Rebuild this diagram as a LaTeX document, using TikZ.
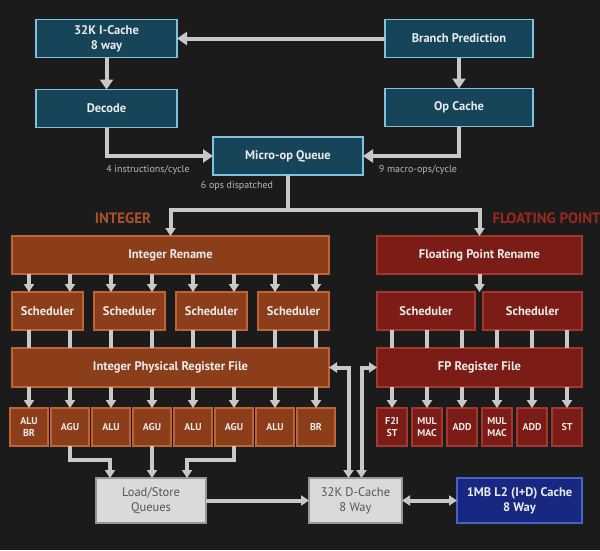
\documentclass[tikz,border=0pt]{standalone}
\usepackage{fontspec}
\setmainfont{PT Sans}
\usetikzlibrary{positioning,arrows.meta}

\definecolor{bgdark}{RGB}{27,27,27}
\definecolor{fetchfill}{RGB}{22,68,88}
\definecolor{fetchline}{RGB}{125,195,225}
\definecolor{intfill}{RGB}{140,62,26}
\definecolor{intline}{RGB}{190,100,55}
\definecolor{fpfill}{RGB}{124,28,22}
\definecolor{fpline}{RGB}{165,55,45}
\definecolor{memfill}{RGB}{218,218,218}
\definecolor{memline}{RGB}{150,150,150}
\definecolor{memtext}{RGB}{85,85,85}
\definecolor{ltwofill}{RGB}{24,40,130}
\definecolor{ltwoline}{RGB}{70,100,200}
\definecolor{wire}{RGB}{200,200,200}
\definecolor{note}{RGB}{185,185,185}
\definecolor{inttitle}{RGB}{170,82,42}
\definecolor{fptitle}{RGB}{155,40,30}

\tikzset{
  block/.style={draw, line width=1.5pt, outer sep=0pt, inner sep=0pt, align=center,
    text=white!92!black, font=\bfseries\fontsize{12.5pt}{15pt}\selectfont},
  fetch/.style={block, fill=fetchfill, draw=fetchline, minimum height=38pt},
  intblk/.style={block, fill=intfill, draw=intline, minimum height=38pt},
  fpblk/.style={block, fill=fpfill, draw=fpline, minimum height=38pt},
  intunit/.style={intblk, minimum width=38pt, font=\bfseries\fontsize{10pt}{12pt}\selectfont},
  fpunit/.style={fpblk, minimum width=30pt, font=\bfseries\fontsize{10pt}{12pt}\selectfont},
  memblk/.style={block, fill=memfill, draw=memline, minimum height=45pt, text=memtext,
    font=\fontsize{12.5pt}{15pt}\selectfont},
  ltwoblk/.style={block, fill=ltwofill, draw=ltwoline, minimum height=45pt},
  note/.style={text=note, font=\fontsize{10pt}{12pt}\selectfont},
  title/.style={font=\bfseries\fontsize{15pt}{17pt}\selectfont},
  wire/.style={draw=wire, line width=4pt},
  arr/.style={wire, -{Triangle[width=10pt,length=8pt]}},
  bigarr/.style={wire, -{Triangle[width=13pt,length=10pt]}},
  darr/.style={wire, {Triangle[width=10pt,length=8pt]}-{Triangle[width=10pt,length=8pt]}},
}

\begin{document}
\begin{tikzpicture}[x=1pt,y=-1pt]
    \useasboundingbox (0,0) rectangle (600,550);
    \fill[bgdark] (0,0) rectangle (600,550);

    % Front end
    \node[fetch, minimum width=141pt]                (icache)  at (106.5,38.5) {32K I-Cache\\8 way};
    \node[fetch, minimum width=141pt, below=32pt of icache] (decode) {Decode};
    \node[fetch, minimum width=148pt, right=208pt of icache] (bpred) {Branch Prediction};
    \node[fetch, minimum width=148pt, below=31pt of bpred]  (opcache) {Op Cache};
    \node[fetch, minimum width=150pt]                (uopq)    at (288,156) {Micro-op Queue};
    \node[note]                                      (ipc)     at (148,170) {4 instructions/cycle};
    \node[note]                                      (mpc)     at (418,170) {9 macro-ops/cycle};
    \node[note]                                      (disp)    at (237,186) {6 ops dispatched};

    % Integer side
    \node[title, text=inttitle]                      (intname) at (123,218) {INTEGER};
    \node[intblk, minimum width=317pt]               (intren)  at (170.5,255) {Integer Rename};
    \node[intblk, minimum width=71pt, below right=18pt and 0pt of intren.south west] (isched1) {Scheduler};
    \node[intblk, minimum width=71pt, right=11pt of isched1] (isched2) {Scheduler};
    \node[intblk, minimum width=71pt, right=11pt of isched2] (isched3) {Scheduler};
    \node[intblk, minimum width=71pt, right=11pt of isched3] (isched4) {Scheduler};
    \node[intblk, minimum width=317pt, minimum height=39pt, below right=18pt and 0pt of isched1.south west] (intprf) {Integer Physical Register File};
    \node[intunit, below right=21pt and -2pt of intprf.south west] (alubr) {ALU\\BR};
    \node[intunit, right=3pt of alubr] (agu1) {AGU};
    \node[intunit, right=3pt of agu1]  (alu1) {ALU};
    \node[intunit, right=3pt of alu1]  (agu2) {AGU};
    \node[intunit, right=3pt of agu2]  (alu2) {ALU};
    \node[intunit, right=3pt of alu2]  (agu3) {AGU};
    \node[intunit, right=3pt of agu3]  (alu3) {ALU};
    \node[intunit, right=3pt of alu3]  (br)   {BR};

    % Floating point side
    \node[title, text=fptitle, anchor=west]          (fpname)  at (489,218) {FLOATING POINT};
    \node[fpblk, minimum width=205pt]                (fpren)   at (479.5,255) {Floating Point Rename};
    \node[fpblk, minimum width=98pt, below right=18pt and 0pt of fpren.south west] (fsched1) {Scheduler};
    \node[fpblk, minimum width=99pt, right=8pt of fsched1] (fsched2) {Scheduler};
    \node[fpblk, minimum width=205pt, minimum height=39pt, below right=18pt and 0pt of fsched1.south west] (fpprf) {FP Register File};
    \node[fpunit, below right=21pt and 0pt of fpprf.south west] (f2i) {F2I\\ST};
    \node[fpunit, right=5pt of f2i]  (mul1) {MUL\\MAC};
    \node[fpunit, right=5pt of mul1] (add1) {ADD};
    \node[fpunit, right=5pt of add1] (mul2) {MUL\\MAC};
    \node[fpunit, right=5pt of mul2] (add2) {ADD};
    \node[fpunit, right=5pt of add2] (fpst) {ST};

    % Memory
    \node[memblk, minimum width=110pt]               (lsq)     at (151,500.5) {Load/Store\\Queues};
    \node[memblk, minimum width=93pt, right=103pt of lsq]  (dcache) {32K D-Cache\\8 Way};
    \node[ltwoblk, minimum width=125pt, right=55pt of dcache] (ltwo) {1MB L2 (I+D) Cache\\8 Way};

    % Connect the front end
    \draw[bigarr] (bpred) -- (icache);
    \draw[bigarr] (icache) -- (decode);
    \draw[bigarr] (bpred) -- (opcache);
    \draw[bigarr] (decode.south) |- (uopq.west);
    \draw[bigarr] (opcache.south) |- (uopq.east);
    \draw[arr] (uopq.south) -- ++(0,35) -| (intren.north);
    \draw[arr] (uopq.south) -- ++(0,35) -| (fpren.north);

    % Integer pipes
    \foreach \unit/\sched in {alubr/isched1, agu1/isched1, alu1/isched2, agu2/isched2,
                              alu2/isched3, agu3/isched3, alu3/isched4, br/isched4} {
      \draw[arr] (\unit |- intren.south) -- (\unit |- \sched.north);
      \draw[wire] (\unit |- \sched.south) -- (\unit |- intprf.north);
      \draw[arr] (\unit |- intprf.south) -- (\unit.north);
    }

    % FP pipes
    \draw[arr] (fpren.south) -- (fpren.south |- fsched1.north);
    \foreach \unit/\sched in {f2i/fsched1, mul1/fsched1, add1/fsched1,
                              mul2/fsched2, add2/fsched2, fpst/fsched2} {
      \draw[wire] (\unit |- \sched.south) -- (\unit |- fpprf.north);
      \draw[arr] (\unit |- fpprf.south) -- (\unit.north);
    }

    % Loads and stores
    \draw[arr] (agu1.south) -- ++(0,14) -| ([xshift=-41pt]lsq.north);
    \draw[arr] (agu2.south) -- (agu2 |- lsq.north);
    \draw[arr] (agu3.south) -- ++(0,14) -| ([xshift=36pt]lsq.north);
    \draw[arr] (lsq) -- (dcache);
    \draw[darr] (dcache) -- (ltwo);
    \draw[darr] ([xshift=-7pt]dcache.north) |- (intprf.east);
    \draw[darr] ([xshift=6pt]dcache.north) |- (fpprf.west);

\end{tikzpicture}
\end{document}
